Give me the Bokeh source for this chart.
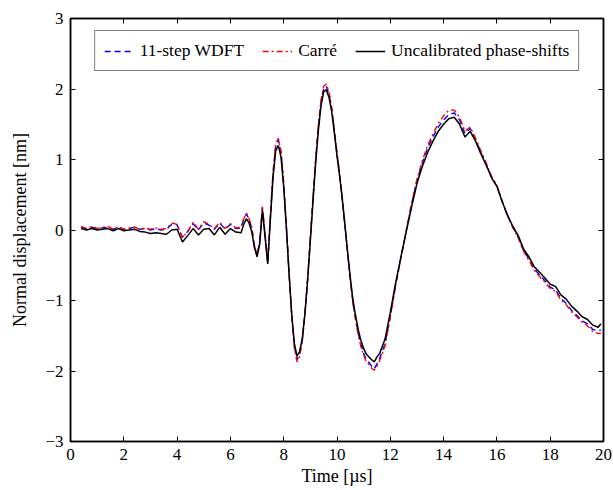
import numpy as np
from bokeh.plotting import figure
from bokeh.models import Range1d, LinearAxis, FixedTicker, Legend, LegendItem
from bokeh.embed import file_html
from bokeh.resources import INLINE

# sample times [us]
t_a = np.round(np.arange(0.4, 6.41, 0.2), 2)
t_b = np.round(np.arange(6.5, 11.61, 0.1), 2)
t_c = np.append(np.round(np.arange(11.8, 19.81, 0.2), 2), 19.9)
time_us = np.concatenate([t_a, t_b, t_c])

# Uncalibrated phase-shifts (black)
uncal = [0.02, 0.0, 0.02, 0.0, 0.01, 0.02, -0.01, 0.02, -0.01, 0.0, 0.01, -0.02, -0.03, -0.05, -0.04, -0.05,
         -0.06, 0.0, 0.01, -0.17, -0.08, 0.02, -0.07, 0.01, 0.02, -0.07, 0.04, -0.06, 0.02, -0.03, -0.04,
         0.08, 0.16, 0.1, -0.02, -0.25, -0.38, -0.2, 0.28, -0.1, -0.48, 0.15, 0.75, 1.12, 1.2, 1.03,
         0.61, 0.03, -0.61, -1.19, -1.61, -1.79, -1.72, -1.53, -1.17, -0.7, -0.15, 0.41, 0.95, 1.41, 1.76,
         1.96, 1.99, 1.88, 1.68, 1.38, 1.05, 0.76, 0.43, 0.06, -0.32, -0.68, -1.0, -1.22, -1.42, -1.57,
         -1.68, -1.76, -1.8, -1.84, -1.87, -1.8, -1.75,
         -1.55, -1.17, -0.75, -0.38, -0.02, 0.33, 0.66, 0.9, 1.1, 1.26, 1.4, 1.5, 1.58, 1.6, 1.5, 1.32,
         1.4, 1.26, 1.08, 0.92, 0.74, 0.62, 0.4, 0.21, 0.05, -0.08, -0.27, -0.38, -0.52, -0.6, -0.68,
         -0.77, -0.8, -0.92, -0.98, -1.08, -1.15, -1.23, -1.27, -1.35, -1.38, -1.33]

# 11-step WDFT (blue dashed)
wdft = [0.04, 0.02, 0.04, 0.02, 0.03, 0.04, 0.01, 0.04, 0.01, 0.02, 0.04, 0.01, 0.02, 0.0, 0.02, 0.0,
        0.01, 0.08, 0.07, -0.1, -0.02, 0.09, 0.0, 0.1, 0.07, 0.01, 0.1, 0.01, 0.08, 0.02, 0.03,
        0.15, 0.23, 0.15, 0.03, -0.22, -0.36, -0.17, 0.32, -0.05, -0.46, 0.2, 0.8, 1.2, 1.28, 1.1,
        0.66, 0.06, -0.6, -1.2, -1.65, -1.84, -1.77, -1.56, -1.18, -0.69, -0.12, 0.45, 1.0, 1.46, 1.81,
        2.01, 2.04, 1.93, 1.72, 1.41, 1.08, 0.78, 0.44, 0.06, -0.33, -0.7, -1.03, -1.26, -1.47, -1.63,
        -1.75, -1.84, -1.88, -1.93, -1.97, -1.9, -1.82,
        -1.62, -1.22, -0.78, -0.39, -0.01, 0.36, 0.7, 0.95, 1.16, 1.32, 1.46, 1.56, 1.64, 1.66, 1.56, 1.37,
        1.44, 1.28, 1.1, 0.93, 0.75, 0.62, 0.4, 0.2, 0.04, -0.1, -0.29, -0.41, -0.55, -0.64, -0.72,
        -0.81, -0.85, -0.97, -1.04, -1.14, -1.21, -1.29, -1.33, -1.41, -1.43, -1.42]

# Carre (red dash-dot)
carre = [0.05, 0.02, 0.05, 0.02, 0.04, 0.05, 0.01, 0.05, 0.01, 0.03, 0.04, 0.01, 0.03, 0.01, 0.03, 0.01,
         0.02, 0.1, 0.08, -0.11, -0.02, 0.11, 0.01, 0.12, 0.08, 0.02, 0.11, 0.02, 0.09, 0.03, 0.04,
         0.16, 0.24, 0.16, 0.04, -0.22, -0.36, -0.16, 0.33, -0.04, -0.47, 0.2, 0.82, 1.22, 1.3, 1.12,
         0.67, 0.06, -0.61, -1.22, -1.68, -1.87, -1.79, -1.57, -1.18, -0.68, -0.1, 0.47, 1.02, 1.49, 1.84,
         2.04, 2.07, 1.96, 1.74, 1.43, 1.1, 0.8, 0.45, 0.07, -0.33, -0.71, -1.05, -1.28, -1.5, -1.66,
         -1.78, -1.87, -1.91, -1.96, -1.99, -1.93, -1.85,
         -1.65, -1.24, -0.79, -0.39, 0.0, 0.38, 0.72, 0.98, 1.2, 1.36, 1.51, 1.62, 1.7, 1.7, 1.6, 1.4,
         1.46, 1.3, 1.12, 0.95, 0.76, 0.63, 0.41, 0.2, 0.03, -0.11, -0.3, -0.43, -0.57, -0.66, -0.74,
         -0.83, -0.87, -0.99, -1.06, -1.16, -1.23, -1.31, -1.36, -1.44, -1.47, -1.46]

x_ticks = [0, 2, 4, 6, 8, 10, 12, 14, 16, 18, 20]
y_ticks = [-3, -2, -1, 0, 1, 2, 3]
y_tick_labels = {-3: "\u22123", -2: "\u22122", -1: "\u22121", 0: "0", 1: "1", 2: "2", 3: "3"}

FONT = "Liberation Serif"

p = figure(width=612, height=489, output_backend="svg", toolbar_location=None,
           x_range=Range1d(0, 20), y_range=Range1d(-3, 3),
           min_border_left=70, min_border_right=9, min_border_top=18, min_border_bottom=48)
p.background_fill_color = "white"
p.border_fill_color = "white"
p.outline_line_color = "black"
p.outline_line_width = 1.5
p.xgrid.grid_line_color = None
p.ygrid.grid_line_color = None

def style_axis(ax, ticks, show_labels=True):
    ax.ticker = FixedTicker(ticks=ticks)
    ax.major_tick_in = 5
    ax.major_tick_out = 0
    ax.minor_tick_line_color = None
    ax.axis_line_color = "black"
    ax.axis_line_width = 1.5
    ax.major_tick_line_color = "black"
    ax.major_tick_line_width = 1
    ax.major_label_text_font = FONT
    if show_labels:
        ax.major_label_text_color = "black"
        ax.major_label_text_font_size = "17px"
        ax.major_label_standoff = 7
    else:
        ax.major_label_text_color = None
        ax.major_label_text_font_size = "1px"
        ax.major_label_standoff = 0

xa = p.xaxis[0]
style_axis(xa, x_ticks)
xa.axis_label = "Time [\u00b5s]"
xa.axis_label_text_font = FONT
xa.axis_label_text_font_size = "18px"
xa.axis_label_text_font_style = "normal"
xa.axis_label_text_color = "black"
xa.axis_label_standoff = 3

ya = p.yaxis[0]
style_axis(ya, y_ticks)
ya.major_label_overrides = y_tick_labels
ya.axis_label = "Normal displacement [nm]"
ya.axis_label_text_font = FONT
ya.axis_label_text_font_size = "18px"
ya.axis_label_text_font_style = "normal"
ya.axis_label_text_color = "black"
ya.axis_label_standoff = 12

top_ax = LinearAxis()
style_axis(top_ax, x_ticks, show_labels=False)
p.add_layout(top_ax, "above")
right_ax = LinearAxis()
style_axis(right_ax, y_ticks, show_labels=False)
p.add_layout(right_ax, "right")

r_wdft = p.line(time_us, wdft, line_color="#0000ff", line_width=1.4, line_dash="6 4")
r_carre = p.line(time_us, carre, line_color="#ff0000", line_width=1.4, line_dash="6 3 2 3")
r_uncal = p.line(time_us, uncal, line_color="black", line_width=1.5)

legend = Legend(items=[LegendItem(label="11-step WDFT", renderers=[r_wdft]),
                       LegendItem(label="Carr\u00e9", renderers=[r_carre]),
                       LegendItem(label="Uncalibrated phase-shifts", renderers=[r_uncal])],
                location="top_center", orientation="horizontal")
legend.margin = 12
legend.padding = 9
legend.spacing = 18
legend.glyph_width = 30
legend.glyph_height = 18
legend.label_height = 18
legend.label_standoff = 6
legend.label_text_font = FONT
legend.label_text_font_size = "17.5px"
legend.label_text_color = "black"
legend.border_line_color = "black"
legend.border_line_width = 1
legend.background_fill_color = "white"
legend.background_fill_alpha = 1
p.add_layout(legend, "center")

open("out.html", "w").write(file_html(p, INLINE))
